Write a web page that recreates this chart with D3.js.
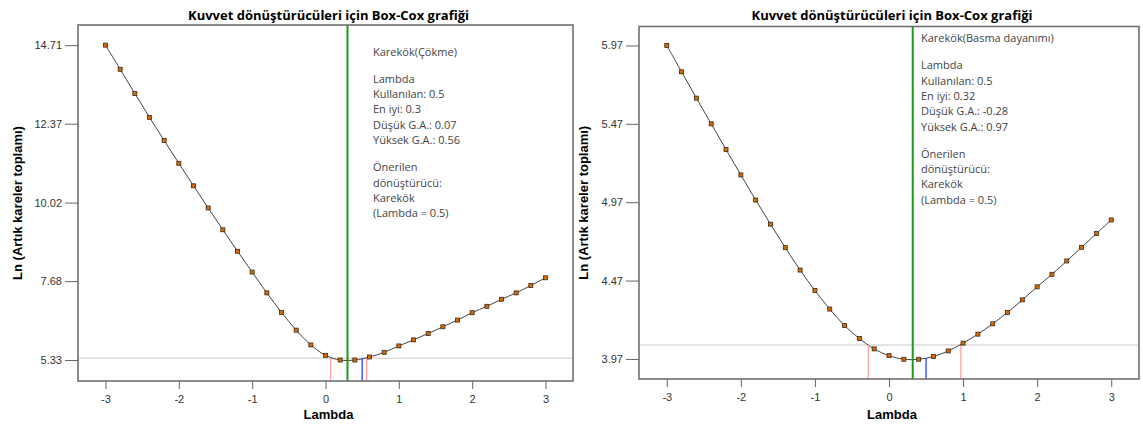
<!DOCTYPE html>
<html>
<head>
<meta charset="utf-8">
<script src="https://cdn.jsdelivr.net/npm/d3@7"></script>
<style>
  body { margin: 0; background: #fff; }
  svg { display: block; }
  .tick text { font-family: "Liberation Sans", Arial, sans-serif; font-size: 11px; fill: #333; }
  .tick line { stroke: #666; }
  .domain { display: none; }
</style>
</head>
<body>
<svg id="chart" width="1143" height="429"></svg>
<script>
// lambda values used for both panels
const lambdas = [-3, -2.8, -2.6, -2.4, -2.2, -2, -1.8, -1.6, -1.4, -1.2, -1, -0.8, -0.6, -0.4, -0.2,
  0, 0.2, 0.4, 0.6, 0.8, 1, 1.2, 1.4, 1.6, 1.8, 2, 2.2, 2.4, 2.6, 2.8, 3]

// Ln(residual sum of squares)
const cokme_ln = [14.71, 13.99, 13.27, 12.56, 11.87, 11.19, 10.52, 9.86, 9.21, 8.57, 7.95, 7.33, 6.75, 6.22, 5.78,
  5.47, 5.33, 5.33, 5.42, 5.56, 5.75, 5.93, 6.12, 6.32, 6.52, 6.74, 6.93, 7.14, 7.33, 7.55, 7.78]
const basma_ln = [5.97, 5.802, 5.634, 5.47, 5.306, 5.144, 4.984, 4.83, 4.68, 4.537, 4.407, 4.288, 4.183, 4.10, 4.034,
  3.991, 3.968, 3.968, 3.985, 4.021, 4.071, 4.128, 4.194, 4.267, 4.347, 4.43, 4.51, 4.595, 4.682, 4.77, 4.857]

const x_ticks = [-3, -2, -1, 0, 1, 2, 3]
const cokme_y_ticks = [5.33, 7.68, 10.02, 12.37, 14.71]
const basma_y_ticks = [3.97, 4.47, 4.97, 5.47, 5.97]

// lambda markers: best, used, lower CI, upper CI, CI threshold (Ln)
const cokme_lambda = {best: 0.3, used: 0.5, low: 0.07, high: 0.56, limit: 5.385}
const basma_lambda = {best: 0.32, used: 0.5, low: -0.28, high: 0.97, limit: 4.059}

const cokme_text = ["Karekök(Çökme)", "", "Lambda", "Kullanılan: 0.5", "En iyi: 0.3", "Düşük G.A.: 0.07",
  "Yüksek G.A.: 0.56", "", "Önerilen", "dönüştürücü:", "Karekök", "(Lambda = 0.5)"]
const basma_text = ["Karekök(Basma dayanımı)", "", "Lambda", "Kullanılan: 0.5", "En iyi: 0.32", "Düşük G.A.: -0.28",
  "Yüksek G.A.: 0.97", "", "Önerilen", "dönüştürücü:", "Karekök", "(Lambda = 0.5)"]

const title = "Kuvvet dönüştürücüleri için Box-Cox grafiği"
const y_title = "Ln (Artık kareler toplamı)"
const x_title = "Lambda"

const svg = d3.select("#chart")

function draw_panel(opt) {
  let g = svg.append("g")
  let {left, right, top, bottom} = opt.box

  let x = d3.scaleLinear().domain([-3.375, 3.375]).range([left, right])
  let y = d3.scaleLinear().domain(opt.y_domain).range([bottom, top])

  // title
  g.append("text")
    .attr("x", (left + right) / 2 + 3).attr("y", 20)
    .attr("text-anchor", "middle")
    .style("font-family", "'Open Sans', sans-serif")
    .style("font-weight", "bold").style("font-size", "13px")
    .text(title)

  // CI threshold line
  g.append("line")
    .attr("x1", left).attr("x2", right)
    .attr("y1", y(opt.lam.limit)).attr("y2", y(opt.lam.limit))
    .attr("stroke", "#c8c8c8").attr("stroke-width", 1)

  // curve
  let line = d3.line()
    .x((d, i) => x(lambdas[i]))
    .y(d => y(d))
    .curve(d3.curveCatmullRom)
  g.append("path")
    .datum(opt.values)
    .attr("d", line)
    .attr("fill", "none").attr("stroke", "#444").attr("stroke-width", 1)

  // CI limits
  g.selectAll(".ci")
    .data([opt.lam.low, opt.lam.high]).enter()
    .append("line")
    .attr("x1", d => x(d)).attr("x2", d => x(d))
    .attr("y1", y(opt.lam.limit)).attr("y2", bottom)
    .attr("stroke", "#ff9a9a").attr("stroke-width", 1.2)

  // used lambda
  let curve_at = d3.scaleLinear().domain(lambdas).range(opt.values)
  g.append("line")
    .attr("x1", x(opt.lam.used)).attr("x2", x(opt.lam.used))
    .attr("y1", y(curve_at(opt.lam.used))).attr("y2", bottom)
    .attr("stroke", "#1030ff").attr("stroke-width", 1.2)

  // best lambda
  g.append("line")
    .attr("x1", x(opt.lam.best)).attr("x2", x(opt.lam.best))
    .attr("y1", top).attr("y2", bottom)
    .attr("stroke", "#1a9a1a").attr("stroke-width", 2)

  // points
  g.selectAll(".pt")
    .data(opt.values).enter()
    .append("rect")
    .attr("x", (d, i) => x(lambdas[i]) - 2)
    .attr("y", d => y(d) - 2)
    .attr("width", 4).attr("height", 4)
    .attr("fill", "#d86a00").attr("stroke", "#3a2a1a").attr("stroke-width", 0.8)

  // frame
  g.append("rect")
    .attr("x", left).attr("y", top)
    .attr("width", right - left).attr("height", bottom - top)
    .attr("fill", "none").attr("stroke", "#707070").attr("stroke-width", 1.6)

  // axes
  g.append("g")
    .attr("transform", `translate(0,${bottom})`)
    .call(d3.axisBottom(x).tickValues(x_ticks).tickSize(8).tickPadding(6).tickFormat(d => String(d)))
  g.append("g")
    .attr("transform", `translate(${left},0)`)
    .call(d3.axisLeft(y).tickValues(opt.y_ticks).tickSize(13).tickPadding(3).tickFormat(d3.format(".2f")))

  // axis titles
  g.append("text")
    .attr("x", (left + right) / 2 + 3).attr("y", 419)
    .attr("text-anchor", "middle")
    .style("font-family", "'Liberation Sans', Arial, sans-serif")
    .style("font-weight", "bold").style("font-size", "13px")
    .text(x_title)
  g.append("text")
    .attr("transform", `translate(${opt.y_title_x},${(top + bottom) / 2}) rotate(-90)`)
    .attr("text-anchor", "middle")
    .style("font-family", "'Liberation Sans', Arial, sans-serif")
    .style("font-weight", "bold").style("font-size", "13px")
    .text(y_title)

  // annotation
  g.append("text")
    .attr("x", opt.text_pos[0]).attr("y", opt.text_pos[1])
    .style("font-family", "'Open Sans', sans-serif")
    .style("font-size", "11px").style("fill", "#444")
    .selectAll("tspan")
    .data(opt.text).enter()
    .append("tspan")
    .attr("x", opt.text_pos[0])
    .attr("dy", (d, i) => i == 0 ? 0 : (opt.text[i - 1] == "" ? 12 : 15.3))
    .text(d => d == "" ? " " : d)
}

draw_panel({
  box: {left: 78, right: 573, top: 25, bottom: 381},
  y_domain: [4.705, 15.31],
  values: cokme_ln,
  y_ticks: cokme_y_ticks,
  lam: cokme_lambda,
  text: cokme_text,
  text_pos: [373, 55.5],
  y_title_x: 22
})

draw_panel({
  box: {left: 639, right: 1139, top: 26.5, bottom: 379},
  y_domain: [3.842, 6.091],
  values: basma_ln,
  y_ticks: basma_y_ticks,
  lam: basma_lambda,
  text: basma_text,
  text_pos: [921, 42],
  y_title_x: 588
})
</script>
</body>
</html>
